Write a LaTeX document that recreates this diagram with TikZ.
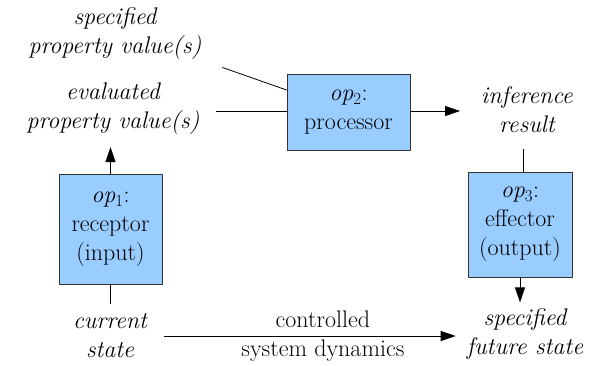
\documentclass[tikz,border=0pt]{standalone}
\usetikzlibrary{arrows.meta}
\begin{document}
\begin{tikzpicture}[x=1pt,y=-1pt,line join=round,
		>={Triangle[length=15pt,width=10pt]},
		font=\fontsize{24}{29}\selectfont,
		opbox/.style={draw=black!80,fill={rgb,255:red,153;green,204;blue,255},line width=0.8pt,align=center,inner sep=0pt},
		txt/.style={align=center,inner sep=0pt,font=\fontsize{24}{29}\selectfont\itshape},
		conn/.style={line width=0.8pt}]
	\useasboundingbox (0,0) rectangle (589,365);
	% operators
	\node[opbox,minimum width=103,minimum height=110] (op1) at (110.5,229) {\textit{op}\textsubscript{1}:\\receptor\\(input)};
	\node[opbox,minimum width=123,minimum height=76] (op2) at (348.5,112) {\textit{op}\textsubscript{2}:\\processor};
	\node[opbox,minimum width=104,minimum height=105] (op3) at (520,224.5) {\textit{op}\textsubscript{3}:\\effector\\(output)};
	% values and states
	\node[txt] (specprop) at (115,34) {specified\\property value(s)};
	\node[txt] (evalprop) at (113,109) {evaluated\\property value(s)};
	\node[txt] (infres) at (527,110) {inference\\result};
	\node[txt] (curstate) at (110,336) {current\\state};
	\node[txt] (futstate) at (525,334) {specified\\future state};
	% connectors
	\draw[conn,->,shorten >=12pt] (op1.north) -- (op1.north |- evalprop.south);
	\draw[conn,shorten >=10pt] (op1.south) -- (op1.south |- curstate.north);
	\draw[conn,shorten >=22pt] ([yshift=22pt]op2.west) -- (specprop.south east);
	\draw[conn,shorten >=16pt] ([yshift=1pt]op2.west) -- ([yshift=1pt]op2.west -| evalprop.east);
	\draw[conn,->,shorten >=21pt] ([yshift=1pt]op2.east) -- ([yshift=1pt]op2.east -| infres.west);
	\draw[conn,shorten >=16pt] ([xshift=3pt]op3.north) -- ([xshift=3pt]op3.north |- infres.south);
	\draw[conn,->,shorten >=6pt] (op3.south) -- (op3.south |- futstate.north);
	\draw[conn,->,shorten <=17pt,shorten >=11pt] (curstate.east) -- (curstate.east -| futstate.west)
		node[pos=0.55,align=center,inner sep=0pt] (dyn) {controlled\\system dynamics};
\end{tikzpicture}
\end{document}
